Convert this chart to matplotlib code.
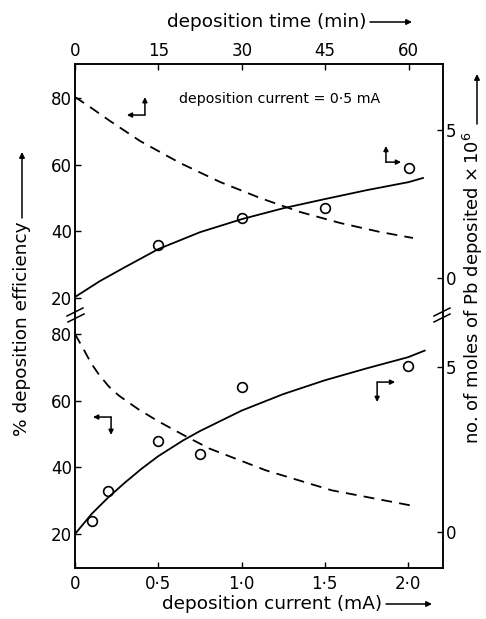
import matplotlib
matplotlib.use("Agg")
import matplotlib.pyplot as plt
from matplotlib.lines import Line2D
from matplotlib.patches import FancyArrowPatch

plt.rcParams['font.family'] = ['DejaVu Sans']

# ---------------- data ----------------
# top panel: versus deposition time (min), current = 0.5 mA
time_dashed = [0, 2.7, 6.3, 11.7, 18.9, 26.1, 33.3, 40.5, 47.7, 54.9, 60.8]
eff_time = [80.3, 77.3, 73.1, 67.1, 60.5, 54.8, 50.0, 45.8, 42.5, 39.8, 38.0]     # % efficiency
time_solid = [0, 4.5, 9, 15, 22.5, 30, 37.5, 45, 52.5, 60, 62.6]
moles_time = [-0.64, -0.10, 0.37, 0.98, 1.55, 1.99, 2.36, 2.67, 2.97, 3.24, 3.38]  # moles x1e6
time_pts = [15, 30, 45, 60]
eff_time_pts = [36, 44, 47, 59]

# bottom panel: versus deposition current (mA)
cur_dashed = [0, 0.054, 0.096, 0.144, 0.204, 0.264, 0.384, 0.504, 0.666, 0.804, 1.146, 1.542, 2.034]
eff_cur = [80.0, 75.2, 71.3, 67.8, 64.2, 61.5, 57.3, 53.7, 49.3, 45.7, 39.1, 33.1, 28.4]
cur_solid = [0, 0.1, 0.2, 0.3, 0.4, 0.5, 0.65, 0.75, 1.0, 1.25, 1.5, 1.75, 2.0, 2.1]
moles_cur = [-0.06, 0.55, 1.05, 1.50, 1.92, 2.30, 2.78, 3.06, 3.68, 4.18, 4.60, 4.96, 5.30, 5.50]
cur_pts = [0.1, 0.2, 0.5, 0.75, 1.0, 2.0]
eff_cur_pts = [24, 33, 48, 44, 64, 70.5]

time_ticks = [0, 15, 30, 45, 60]
time_labels = ['0', '15', '30', '45', '60']
cur_ticks = [0, 0.5, 1.0, 1.5, 2.0]
cur_labels = ['0', '0·5', '1·0', '1·5', '2·0']
eff_ticks = [20, 40, 60, 80]
mol_ticks = [0, 5]

# ---------------- figure ----------------
W, H = 486, 619
fig = plt.figure(figsize=(W / 100, H / 100), dpi=100)

def fx(x):
    return x / W

def fy(y):
    return 1 - y / H

L, R = 75, 443
T, M, B = 64, 313, 568
axT = fig.add_axes([fx(L), fy(M), (R - L) / W, (M - T) / H])
axB = fig.add_axes([fx(L), fy(B), (R - L) / W, (B - M) / H])
axTr = axT.twinx()
axBr = axB.twinx()

fs = 12
lw = 1.3
tick_kw = dict(direction='in', length=4, width=1.0, labelsize=fs)

for a in (axT, axB, axTr, axBr):
    for s in a.spines.values():
        s.set_linewidth(1.1)

# top panel
axT.plot(time_dashed, eff_time, color='k', lw=lw, ls=(0, (6, 4)))
axT.plot(time_pts, eff_time_pts, 'o', mfc='white', mec='k', ms=7, mew=1.2, zorder=5)
axTr.plot(time_solid, moles_time, color='k', lw=lw)
axT.set_xlim(0, 66.2)
axT.set_ylim(15.5, 90.2)
axTr.set_ylim(-1.18, 7.23)
axT.xaxis.tick_top()
axT.set_xticks(time_ticks, time_labels)
axT.set_yticks(eff_ticks)
axTr.set_yticks(mol_ticks)
axT.tick_params(axis='x', which='both', top=True, bottom=False, pad=3, **tick_kw)
axT.tick_params(axis='y', pad=2, **tick_kw)
axTr.tick_params(axis='y', pad=2, **tick_kw)
for a in (axT, axTr):
    a.spines['bottom'].set_visible(False)

# bottom panel
axB.plot(cur_dashed, eff_cur, color='k', lw=lw, ls=(0, (6, 4)))
axB.plot(cur_pts, eff_cur_pts, 'o', mfc='white', mec='k', ms=7, mew=1.2, zorder=5)
axBr.plot(cur_solid, moles_cur, color='k', lw=lw)
axB.set_xlim(0, 2.21)
axB.set_ylim(9.8, 86.3)
axBr.set_ylim(-1.09, 6.64)
axB.set_xticks(cur_ticks, cur_labels)
axB.set_yticks(eff_ticks)
axBr.set_yticks(mol_ticks)
axB.tick_params(axis='x', pad=5, **tick_kw)
axB.tick_params(axis='y', pad=2, **tick_kw)
axBr.tick_params(axis='y', pad=2, **tick_kw)
for a in (axB, axBr):
    a.spines['top'].set_visible(False)

# axis titles with long arrows
def arrow_fig(x0, y0, x1, y1):
    fig.add_artist(FancyArrowPatch(
        (fx(x0), fy(y0)), (fx(x1), fy(y1)), transform=fig.transFigure,
        arrowstyle='-|>', mutation_scale=8, lw=1.1, color='k',
        shrinkA=0, shrinkB=0))

lfs = 13.3
fig.text(fx(267), fy(22), 'deposition time (min)', ha='center', va='center', fontsize=lfs)
arrow_fig(370, 22, 412, 22)
fig.text(fx(272), fy(604), 'deposition current (mA)', ha='center', va='center', fontsize=lfs)
arrow_fig(386, 604, 432, 604)
fig.text(fx(22), fy(329), '% deposition efficiency', ha='center', va='center',
         rotation=90, fontsize=lfs)
arrow_fig(22, 218, 22, 152)
fig.text(fx(473), fy(288), r'no. of moles of Pb deposited $\times\,10^{6}$', ha='center',
         va='center', rotation=90, fontsize=13)
arrow_fig(477, 124, 477, 74)

fig.text(fx(280), fy(99), 'deposition current = 0·5 mA', ha='center', va='center', fontsize=10.2)

# corner indicator arrows (axes fraction)
def corner(ax, c, ends):
    for e in ends:
        ax.annotate('', xy=e, xytext=c, xycoords='axes fraction', textcoords='axes fraction',
                    arrowprops=dict(arrowstyle='-|>', lw=1.1, color='k', mutation_scale=7,
                                    shrinkA=0, shrinkB=0))

corner(axT, (0.190, 0.795), [(0.190, 0.867), (0.141, 0.795)])
corner(axT, (0.845, 0.606), [(0.845, 0.671), (0.886, 0.606)])
corner(axB, (0.098, 0.592), [(0.049, 0.592), (0.098, 0.522)])
corner(axB, (0.821, 0.729), [(0.870, 0.729), (0.821, 0.651)])

# axis break marks
for (cx, cy) in [(75, 312), (76, 318), (442, 312), (442, 318)]:
    fig.add_artist(Line2D([fx(cx - 8), fx(cx + 8)], [fy(cy + 4), fy(cy - 4)],
                          transform=fig.transFigure, color='k', lw=1.1))

fig.savefig('out.png', dpi=100)
